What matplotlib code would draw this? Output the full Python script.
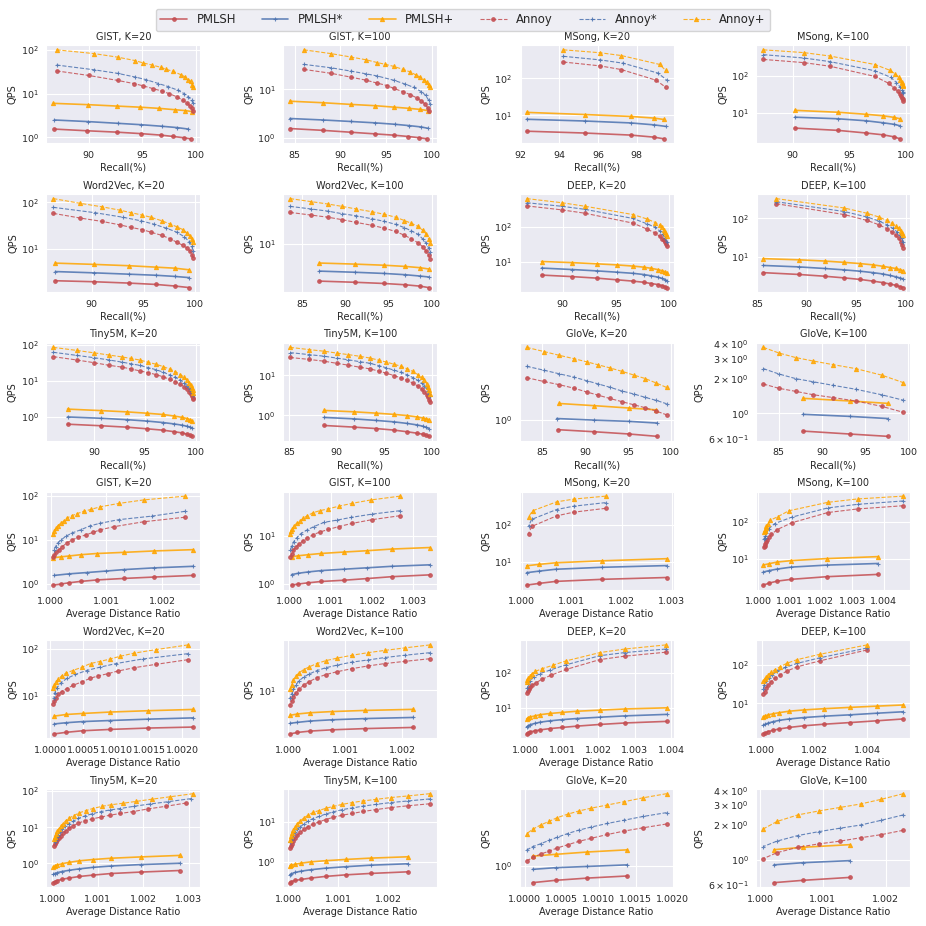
import matplotlib
matplotlib.use("Agg")
import matplotlib.pyplot as plt
from matplotlib.colors import to_rgba
from matplotlib.ticker import MultipleLocator
import seaborn as sns

# each series: (recall %, (avg distance ratio - 1) * 1e3, QPS)
methods = ["PMLSH", "PMLSH*", "PMLSH+", "Annoy", "Annoy*", "Annoy+"]

# ---- GIST ----
g20_p_rec = [86.8, 89.8, 92.6, 94.9, 96.7, 97.9, 98.9, 99.5]
g20_p_rat = [2.56, 1.85, 1.31, 0.83, 0.54, 0.33, 0.18, 0.05]
gist20 = {
    "PMLSH": (g20_p_rec, g20_p_rat, [1.55, 1.42, 1.32, 1.22, 1.13, 1.05, 0.98, 0.93]),
    "PMLSH*": ([86.8, 89.9, 92.7, 94.9, 96.8, 98.2, 99.3], [2.56, 1.85, 1.31, 1.0, 0.65, 0.33, 0.07],
               [2.5, 2.3, 2.1, 1.95, 1.8, 1.68, 1.55]),
    "PMLSH+": ([86.7, 89.9, 92.6, 94.8, 96.6, 98.0, 99.0, 99.6], g20_p_rat,
               [6.0, 5.6, 5.2, 4.9, 4.6, 4.3, 4.1, 3.9]),
    "Annoy": ([87.0, 90.0, 92.7, 94.2, 95.1, 96.0, 96.8, 97.5, 98.2, 98.8, 99.2, 99.45, 99.6, 99.7],
              [2.41, 1.67, 1.13, 0.89, 0.77, 0.63, 0.49, 0.39, 0.29, 0.21, 0.15, 0.1, 0.07, 0.05],
              [33, 26, 20, 17, 15, 13, 11.5, 10, 8.5, 7, 6, 5.2, 4.6, 4.1]),
    "Annoy*": ([87.0, 90.5, 92.7, 94.3, 95.3, 96.5, 97.4, 98.3, 98.9, 99.3, 99.6, 99.75],
               [2.41, 1.82, 1.22, 0.89, 0.71, 0.54, 0.39, 0.27, 0.19, 0.13, 0.09, 0.06],
               [45, 35, 29, 24, 21, 17, 14.5, 12, 10, 8.5, 7, 6]),
    "Annoy+": ([87.0, 90.5, 92.7, 94.3, 95.1, 95.9, 96.7, 97.2, 97.9, 98.6, 99.0, 99.3, 99.5, 99.65, 99.75],
               [2.41, 1.67, 1.22, 0.89, 0.73, 0.6, 0.48, 0.39, 0.3, 0.24, 0.18, 0.13, 0.1, 0.07, 0.05],
               [100, 82, 68, 57, 50, 45, 40, 36, 32, 27, 24, 21, 19, 16, 14]),
}

g100_p_rat = [3.4, 2.48, 1.89, 1.33, 0.78, 0.46, 0.22, 0.06]
gist100 = {
    "PMLSH": ([84.5, 88.1, 91.1, 93.8, 95.8, 97.4, 98.6, 99.4], g100_p_rat,
              [1.55, 1.42, 1.3, 1.2, 1.13, 1.06, 1.0, 0.95]),
    "PMLSH*": ([84.5, 88.1, 91.1, 93.8, 95.9, 97.5, 98.8, 99.5], g100_p_rat,
               [2.5, 2.33, 2.17, 2.03, 1.9, 1.78, 1.67, 1.57]),
    "PMLSH+": ([84.5, 88.1, 91.1, 93.8, 95.8, 97.5, 98.7, 99.5], g100_p_rat,
               [5.7, 5.3, 4.9, 4.6, 4.3, 4.05, 3.85, 3.65]),
    "Annoy": ([86.0, 89.0, 91.1, 92.8, 94.0, 95.1, 95.8, 96.8, 97.6, 98.3, 98.8, 99.2, 99.5, 99.7],
              [2.68, 2.0, 1.52, 1.2, 0.95, 0.75, 0.58, 0.44, 0.33, 0.24, 0.16, 0.1, 0.06, 0.03],
              [26, 21.5, 18, 15.5, 13.5, 12, 10.5, 9, 7.8, 6.7, 5.8, 5, 4.2, 3.6]),
    "Annoy*": ([86.0, 89.0, 91.1, 92.8, 94.0, 95.8, 97.0, 98.0, 98.8, 99.3, 99.6, 99.75],
               [2.68, 2.0, 1.5, 1.15, 0.85, 0.6, 0.42, 0.28, 0.18, 0.11, 0.06, 0.03],
               [33, 28, 24, 21, 19, 15.5, 13, 11, 9, 7.5, 6, 5]),
    "Annoy+": ([86.0, 89.0, 91.1, 92.8, 94.0, 94.9, 95.8, 96.8, 97.6, 98.2, 98.7, 99.1, 99.4, 99.6, 99.75],
               [2.68, 1.97, 1.53, 1.21, 0.94, 0.74, 0.58, 0.44, 0.34, 0.26, 0.18, 0.12, 0.08, 0.04, 0.02],
               [66, 55, 47, 41, 36, 33, 30, 26, 23, 20, 18, 16, 14, 12.5, 11]),
}

# ---- MSong ----
m20_p_rec = [92.3, 95.3, 97.7, 98.9, 99.4]
m20_p_rat = [2.9, 1.6, 0.68, 0.34, 0.1]
msong20 = {
    "PMLSH": (m20_p_rec, m20_p_rat, [3.7, 3.3, 2.9, 2.55, 2.3]),
    "PMLSH*": ([92.3, 95.3, 97.7, 98.9, 99.5], m20_p_rat, [7.8, 7.0, 6.2, 5.5, 5.0]),
    "PMLSH+": (m20_p_rec, m20_p_rat, [12, 10.5, 9.3, 8.4, 7.7]),
    "Annoy": ([94.2, 96.1, 97.2, 99.0, 99.5], [1.68, 1.04, 0.7, 0.2, 0.14], [280, 220, 175, 90, 58]),
    "Annoy*": ([94.2, 96.1, 97.3, 99.1, 99.55], [1.68, 1.04, 0.7, 0.2, 0.14], [400, 320, 260, 140, 92]),
    "Annoy+": ([94.2, 96.1, 97.2, 99.2, 99.5], [1.68, 1.05, 0.7, 0.22, 0.14], [600, 500, 420, 240, 165]),
}

m100_p_rec = [90.2, 94.0, 96.5, 98.0, 99.0, 99.5]
m100_p_rat = [3.81, 2.2, 1.06, 0.6, 0.34, 0.16]
msong100 = {
    "PMLSH": (m100_p_rec, m100_p_rat, [3.8, 3.3, 2.8, 2.5, 2.2, 1.95]),
    "PMLSH*": (m100_p_rec, m100_p_rat, [7.5, 6.8, 6.0, 5.3, 4.8, 4.4]),
    "PMLSH+": (m100_p_rec, m100_p_rat, [11.5, 10.2, 9.0, 8.2, 7.4, 6.8]),
    "Annoy": ([87.4, 91.0, 93.3, 97.3, 98.5, 99.0, 99.3, 99.5, 99.62, 99.7, 99.76, 99.8],
              [4.63, 3.17, 2.22, 1.07, 0.6, 0.42, 0.34, 0.28, 0.25, 0.23, 0.21, 0.19],
              [275, 225, 180, 95, 62, 46, 38, 32, 28, 25, 23, 21]),
    "Annoy*": ([87.4, 91.0, 93.3, 97.3, 98.7, 99.2, 99.5, 99.65, 99.75, 99.8],
               [4.63, 3.17, 2.22, 1.07, 0.52, 0.33, 0.26, 0.23, 0.21, 0.19],
               [370, 300, 240, 135, 90, 65, 50, 42, 37, 34]),
    "Annoy+": ([87.4, 91.0, 93.3, 97.3, 98.6, 99.1, 99.4, 99.55, 99.65, 99.72, 99.77, 99.8],
               [4.63, 3.17, 2.22, 0.97, 0.63, 0.37, 0.32, 0.26, 0.24, 0.22, 0.2, 0.18],
               [500, 420, 340, 200, 140, 110, 90, 78, 68, 62, 57, 53]),
}

# ---- Word2Vec ----
w20_p_rec = [86.5, 90.2, 93.6, 96.2, 98.0, 99.4]
w20_p_rat = [2.17, 1.49, 0.91, 0.49, 0.24, 0.06]
w20_a_rec = [86.3, 88.9, 91.0, 92.7, 93.8, 94.9, 95.7, 96.8, 97.6, 98.2, 98.8, 99.2, 99.5, 99.7, 99.8]
word20 = {
    "PMLSH": (w20_p_rec, w20_p_rat, [2.1, 2.0, 1.87, 1.75, 1.62, 1.5]),
    "PMLSH*": (w20_p_rec, w20_p_rat, [3.3, 3.1, 2.9, 2.75, 2.6, 2.45]),
    "PMLSH+": (w20_p_rec, w20_p_rat, [5.0, 4.7, 4.4, 4.1, 3.9, 3.6]),
    "Annoy": (w20_a_rec,
              [2.09, 1.6, 1.27, 1.02, 0.87, 0.72, 0.6, 0.48, 0.35, 0.25, 0.17, 0.12, 0.085, 0.06, 0.045],
              [58, 46, 39, 33, 29, 26, 23, 19.5, 16.5, 14, 12, 10.5, 9, 7.5, 6.4]),
    "Annoy*": ([86.3, 90.3, 93.0, 94.8, 96.0, 97.2, 98.2, 98.9, 99.4, 99.65, 99.8],
               [2.09, 1.4, 1.0, 0.75, 0.55, 0.38, 0.25, 0.16, 0.1, 0.07, 0.05],
               [78, 60, 48, 40, 34, 28, 23, 18.5, 14.5, 11.5, 9]),
    "Annoy+": (w20_a_rec,
               [2.09, 1.6, 1.27, 1.05, 0.91, 0.75, 0.61, 0.48, 0.34, 0.24, 0.17, 0.12, 0.085, 0.06, 0.045],
               [120, 95, 80, 68, 60, 53, 48, 40, 34, 30, 26, 22, 19, 16.5, 14.5]),
}

w100_p_rec = [87.0, 91.1, 94.5, 96.9, 98.6, 99.6]
w100_p_rat = [2.2, 1.35, 0.77, 0.38, 0.16, 0.035]
w100_a_rec = [83.6, 86.0, 88.0, 89.6, 91.2, 93.1, 94.5, 95.8, 96.8, 97.6, 98.4, 98.9, 99.3, 99.6, 99.75]
w100_a_rat = [2.49, 2.05, 1.7, 1.4, 1.12, 0.86, 0.66, 0.5, 0.37, 0.27, 0.19, 0.13, 0.09, 0.06, 0.03]
word100 = {
    "PMLSH": (w100_p_rec, w100_p_rat, [2.1, 2.0, 1.9, 1.8, 1.7, 1.6]),
    "PMLSH*": (w100_p_rec, w100_p_rat, [3.2, 3.05, 2.9, 2.75, 2.6, 2.5]),
    "PMLSH+": (w100_p_rec, w100_p_rat, [4.5, 4.3, 4.1, 3.9, 3.7, 3.5]),
    "Annoy": (w100_a_rec, w100_a_rat, [38, 34, 31, 28, 25, 22, 19.5, 17, 14.5, 12.5, 10.5, 9, 7.5, 6.3, 5.3]),
    "Annoy*": (w100_a_rec, w100_a_rat, [49, 44, 40, 36, 33, 29, 26, 23, 20, 17.5, 15, 12.5, 10.5, 8.5, 7.2]),
    "Annoy+": (w100_a_rec, w100_a_rat, [68, 60, 54, 49, 44, 39, 35, 31, 27, 24, 21, 18, 15.5, 12.5, 10.4]),
}

# ---- DEEP ----
d20_p_rec = [88.0, 90.9, 93.2, 95.1, 96.6, 97.6, 98.3, 98.9, 99.3, 99.6, 99.75]
d20_p_rat = [3.87, 2.74, 2.04, 1.41, 1.0, 0.67, 0.41, 0.26, 0.13, 0.07, 0.03]
d20_a_rec = [86.6, 89.9, 92.1, 96.6, 97.9, 98.7, 99.1, 99.35, 99.5, 99.6, 99.7, 99.75]
deep20 = {
    "PMLSH": (d20_p_rec, d20_p_rat, [4.1, 3.7, 3.35, 3.0, 2.75, 2.55, 2.35, 2.2, 2.05, 1.9, 1.8]),
    "PMLSH*": (d20_p_rec, d20_p_rat, [6.5, 5.9, 5.4, 4.95, 4.6, 4.25, 3.9, 3.6, 3.3, 3.05, 2.85]),
    "PMLSH+": (d20_p_rec, d20_p_rat, [10, 9.3, 8.6, 8.0, 7.4, 6.9, 6.4, 5.9, 5.5, 5.1, 4.8]),
    "Annoy": (d20_a_rec, [3.85, 2.72, 2.04, 1.11, 0.69, 0.44, 0.29, 0.19, 0.13, 0.09, 0.055, 0.033],
              [390, 300, 240, 125, 85, 65, 52, 45, 40, 35, 31, 27]),
    "Annoy*": ([86.6, 89.9, 92.1, 96.6, 97.9, 98.7, 99.1, 99.4, 99.6, 99.75],
               [3.85, 2.72, 2.04, 1.11, 0.67, 0.39, 0.22, 0.13, 0.08, 0.044],
               [480, 380, 310, 170, 120, 95, 75, 60, 47, 37]),
    "Annoy+": (d20_a_rec, [3.85, 2.72, 2.04, 1.11, 0.75, 0.44, 0.27, 0.18, 0.12, 0.078, 0.05, 0.033],
               [630, 480, 380, 220, 165, 130, 110, 95, 82, 72, 62, 55]),
}

d100_p_rec = [85.6, 89.2, 91.8, 93.8, 95.4, 96.7, 97.7, 98.4, 99.0, 99.4, 99.7]
d100_p_rat = [5.38, 4.38, 3.37, 2.36, 1.61, 1.04, 0.67, 0.42, 0.25, 0.14, 0.06]
d100_a_rec = [86.9, 93.8, 96.1, 97.3, 98.1, 98.6, 99.0, 99.3, 99.5, 99.65, 99.75]
d100_a_rat = [4.0, 2.2, 1.35, 0.95, 0.7, 0.5, 0.36, 0.25, 0.17, 0.11, 0.06]
deep100 = {
    "PMLSH": (d100_p_rec, d100_p_rat, [3.9, 3.5, 3.15, 2.85, 2.6, 2.35, 2.15, 1.98, 1.83, 1.7, 1.6]),
    "PMLSH*": (d100_p_rec, d100_p_rat, [6.0, 5.5, 5.0, 4.6, 4.25, 3.9, 3.6, 3.3, 3.05, 2.85, 2.7]),
    "PMLSH+": (d100_p_rec, d100_p_rat, [9.0, 8.4, 7.8, 7.2, 6.7, 6.2, 5.7, 5.3, 5.0, 4.7, 4.4]),
    "Annoy": (d100_a_rec, d100_a_rat, [240, 125, 88, 68, 54, 44, 36, 30, 25, 20, 17]),
    "Annoy*": ([86.9, 93.8, 96.1, 97.3, 98.1, 98.7, 99.1, 99.4, 99.6, 99.75],
               [4.0, 2.2, 1.35, 0.9, 0.6, 0.4, 0.26, 0.16, 0.1, 0.06],
               [270, 150, 108, 85, 68, 55, 45, 37, 30, 24]),
    "Annoy+": (d100_a_rec, d100_a_rat, [325, 185, 135, 108, 88, 74, 63, 55, 48, 42, 37]),
}

# ---- Tiny5M ----
t20_p_rec = [87.4, 90.7, 93.3, 95.2, 96.8, 97.9, 98.7, 99.2, 99.5, 99.7]
t20_p_rat = [2.8, 1.95, 1.3, 0.9, 0.6, 0.38, 0.22, 0.12, 0.06, 0.03]
t20_a_rec = [86.0, 88.3, 90.0, 91.5, 92.8, 93.6, 94.5, 95.3, 96.1, 96.8,
             97.5, 98.0, 98.5, 98.9, 99.2, 99.4, 99.55, 99.65, 99.72, 99.78]
tiny20 = {
    "PMLSH": (t20_p_rec, t20_p_rat, [0.63, 0.57, 0.52, 0.47, 0.43, 0.39, 0.36, 0.33, 0.31, 0.29]),
    "PMLSH*": (t20_p_rec, t20_p_rat, [1.0, 0.92, 0.84, 0.77, 0.7, 0.64, 0.59, 0.55, 0.52, 0.49]),
    "PMLSH+": (t20_p_rec, t20_p_rat, [1.65, 1.5, 1.38, 1.27, 1.17, 1.06, 0.97, 0.9, 0.83, 0.77]),
    "Annoy": (t20_a_rec,
              [2.95, 2.5, 2.1, 1.77, 1.5, 1.27, 1.07, 0.88, 0.72, 0.58,
               0.47, 0.38, 0.3, 0.24, 0.19, 0.15, 0.12, 0.09, 0.07, 0.05],
              [47, 38, 32, 27, 24, 21.5, 19, 17, 15, 13, 11, 9.5, 8, 6.8, 5.8, 5.0, 4.3, 3.8, 3.4, 3.1]),
    "Annoy*": ([86.0, 88.3, 90.0, 91.5, 92.8, 93.6, 94.5, 95.3, 96.1, 96.8,
                97.5, 98.0, 98.5, 98.9, 99.2, 99.45, 99.6, 99.7, 99.78],
               [3.05, 2.55, 2.15, 1.8, 1.5, 1.27, 1.07, 0.88, 0.72, 0.58,
                0.46, 0.37, 0.29, 0.23, 0.18, 0.14, 0.11, 0.08, 0.06],
               [62, 51, 44, 38, 33, 30, 27, 23.5, 20.5, 17.5, 14.5, 12.5, 10.5, 8.7, 7.3, 6.1, 5.2, 4.5, 4.0]),
    "Annoy+": (t20_a_rec,
               [3.1, 2.6, 2.2, 1.85, 1.55, 1.3, 1.1, 0.9, 0.75, 0.6,
                0.48, 0.38, 0.3, 0.24, 0.19, 0.15, 0.12, 0.09, 0.07, 0.05],
               [85, 70, 60, 52, 46, 42, 38, 33, 29, 25, 21, 18, 15, 12.5, 10.5, 9, 7.8, 6.5, 5.5, 4.6]),
}

t100_p_rec = [88.7, 91.8, 94.1, 96.0, 97.4, 98.4, 99.0, 99.4, 99.7]
t100_p_rat = [2.4, 1.65, 1.15, 0.75, 0.45, 0.26, 0.14, 0.07, 0.04]
t100_a_rec = [85.1, 87.1, 88.7, 90.0, 91.2, 92.4, 93.5, 94.4, 95.2, 96.0,
              96.7, 97.4, 98.0, 98.5, 98.9, 99.2, 99.45, 99.6, 99.7, 99.78]
t100_a_rat = [2.83, 2.4, 2.05, 1.75, 1.5, 1.28, 1.08, 0.9, 0.75, 0.62,
              0.5, 0.4, 0.32, 0.25, 0.19, 0.15, 0.11, 0.08, 0.06, 0.04]
tiny100 = {
    "PMLSH": (t100_p_rec, t100_p_rat, [0.56, 0.51, 0.47, 0.43, 0.39, 0.36, 0.34, 0.32, 0.30]),
    "PMLSH*": (t100_p_rec, t100_p_rat, [0.89, 0.82, 0.75, 0.69, 0.63, 0.58, 0.54, 0.5, 0.47]),
    "PMLSH+": (t100_p_rec, t100_p_rat, [1.33, 1.23, 1.14, 1.06, 0.99, 0.92, 0.86, 0.82, 0.79]),
    "Annoy": (t100_a_rec, t100_a_rat,
              [28, 25, 22.5, 20, 18, 16, 14.5, 12.8, 11.3, 9.9, 8.7, 7.5, 6.4, 5.4, 4.6, 3.9, 3.3, 2.8, 2.45, 2.2]),
    "Annoy*": (t100_a_rec, t100_a_rat,
               [37, 33, 30, 27, 24.5, 22, 20, 17.5, 15.5, 13.5, 12, 10.3, 8.8, 7.5, 6.4, 5.5, 4.7, 4.0, 3.5, 3.1]),
    "Annoy+": (t100_a_rec, t100_a_rat,
               [50, 44, 40, 36, 33, 30, 27, 24, 21.5, 19, 17, 14.5, 12.5, 10.5, 9, 7.5, 6.2, 5.2, 4.3, 3.5]),
}

# ---- GloVe ----
gl20_p_rat = [1.39, 0.85, 0.42, 0.107]
gl20_a_rec = [83.2, 85.2, 87.0, 88.7, 90.2, 91.5, 92.9, 94.3, 95.7, 97.0, 98.3, 99.5]
gl20_a_rat = [1.92, 1.6, 1.35, 1.12, 0.9, 0.73, 0.58, 0.44, 0.33, 0.22, 0.107, 0.027]
glove20 = {
    "PMLSH": ([86.8, 91.1, 95.1, 98.4], gl20_p_rat, [0.78, 0.74, 0.70, 0.66]),
    "PMLSH*": ([86.7, 91.1, 95.1, 98.4], gl20_p_rat, [1.03, 0.99, 0.96, 0.92]),
    "PMLSH+": ([87.0, 91.1, 95.1, 98.3], gl20_p_rat, [1.5, 1.42, 1.34, 1.28]),
    "Annoy": (gl20_a_rec, gl20_a_rat, [2.86, 2.6, 2.4, 2.2, 2.0, 1.85, 1.7, 1.57, 1.45, 1.35, 1.24, 1.13]),
    "Annoy*": (gl20_a_rec, gl20_a_rat, [3.8, 3.45, 3.15, 2.9, 2.65, 2.45, 2.25, 2.05, 1.9, 1.75, 1.62, 1.49]),
    "Annoy+": (gl20_a_rec, gl20_a_rat, [6.1, 5.5, 5.0, 4.6, 4.25, 3.95, 3.65, 3.35, 3.05, 2.8, 2.5, 2.24]),
}

gl100_p_rec = [87.8, 93.2, 97.6]
gl100_p_rat = [1.43, 0.68, 0.22]
gl100_a_rec = [83.2, 85.0, 87.0, 89.0, 91.3, 93.9, 96.9, 99.4]
gl100_a_rat = [2.28, 1.93, 1.6, 1.28, 0.93, 0.6, 0.27, 0.05]
glove100 = {
    "PMLSH": (gl100_p_rec, gl100_p_rat, [0.70, 0.66, 0.63]),
    "PMLSH*": (gl100_p_rec, gl100_p_rat, [0.98, 0.94, 0.90]),
    "PMLSH+": (gl100_p_rec, gl100_p_rat, [1.35, 1.28, 1.22]),
    "Annoy": (gl100_a_rec, gl100_a_rat, [1.8, 1.65, 1.55, 1.45, 1.37, 1.28, 1.15, 1.02]),
    "Annoy*": (gl100_a_rec, gl100_a_rat, [2.45, 2.2, 2.0, 1.88, 1.75, 1.62, 1.45, 1.3]),
    "Annoy+": (gl100_a_rec, gl100_a_rat, [3.75, 3.35, 3.05, 2.85, 2.65, 2.45, 2.15, 1.85]),
}

panels = [("GIST", 20, gist20), ("GIST", 100, gist100), ("MSong", 20, msong20), ("MSong", 100, msong100),
          ("Word2Vec", 20, word20), ("Word2Vec", 100, word100), ("DEEP", 20, deep20), ("DEEP", 100, deep100),
          ("Tiny5M", 20, tiny20), ("Tiny5M", 100, tiny100), ("GloVe", 20, glove20), ("GloVe", 100, glove100)]

# ratio axes where the tick step is fixed
ratio_step = {("GloVe", 100): 0.001, ("MSong", 20): 0.001}

RED, BLUE, ORANGE = "#c44e52", "#4c72b0", "#ffa500"
colors = {"PMLSH": RED, "PMLSH*": BLUE, "PMLSH+": ORANGE, "Annoy": RED, "Annoy*": BLUE, "Annoy+": ORANGE}
markers = {"PMLSH": "o", "PMLSH*": "+", "PMLSH+": "^", "Annoy": "o", "Annoy*": "+", "Annoy+": "^"}
msizes = {"o": 2.6, "+": 3.2, "^": 3.0}


def style(m):
    c = colors[m]
    mk = markers[m]
    solid = not m.startswith("Annoy")
    return dict(color=c, marker=mk, linestyle="-" if solid else "--",
                linewidth=1.2 if solid else 0.8, alpha=0.85, markersize=msizes[mk],
                markerfacecolor=to_rgba(c, 0.45) if mk == "o" else c,
                markeredgewidth=0.8, label=m)


sns.set_style("darkgrid")
plt.rcParams.update({
    "font.family": ["DejaVu Sans"],
    "axes.titlesize": 7,
    "axes.labelsize": 7,
    "xtick.labelsize": 6.8,
    "ytick.labelsize": 6.8,
    "axes.titlepad": 4,
    "axes.labelpad": 2,
})

fig, axes = plt.subplots(6, 4, figsize=(9.26, 9.26), dpi=100)

for i, (name, k, data) in enumerate(panels):
    r, c = divmod(i, 4)
    ax_rec = axes[r, c]
    ax_rat = axes[r + 3, c]
    for m in methods:
        rec, rat, qps = data[m]
        ratio = [1 + v / 1000 for v in rat]
        ax_rec.plot(rec, qps, **style(m))
        ax_rat.plot(ratio, qps, **style(m))
    ax_rat.ticklabel_format(axis="x", useOffset=False)
    if (name, k) in ratio_step:
        ax_rat.xaxis.set_major_locator(MultipleLocator(ratio_step[(name, k)]))
    for ax, xl in ((ax_rec, "Recall(%)"), (ax_rat, "Average Distance Ratio")):
        ax.set_yscale("log")
        ax.set_title(f"{name}, K={k}")
        ax.set_xlabel(xl)
        ax.set_ylabel("QPS")
        ax.tick_params(axis="both", pad=2)

handles, labels = axes[0, 0].get_legend_handles_labels()
fig.legend(handles, labels, loc="upper center", ncol=6, bbox_to_anchor=(0.5, 0.997),
           fontsize=8.4, frameon=True, columnspacing=2.2, handlelength=2.3)

fig.subplots_adjust(left=0.05, right=0.983, top=0.951, bottom=0.042, wspace=0.537, hspace=0.52)
fig.savefig("out.png", dpi=100)
